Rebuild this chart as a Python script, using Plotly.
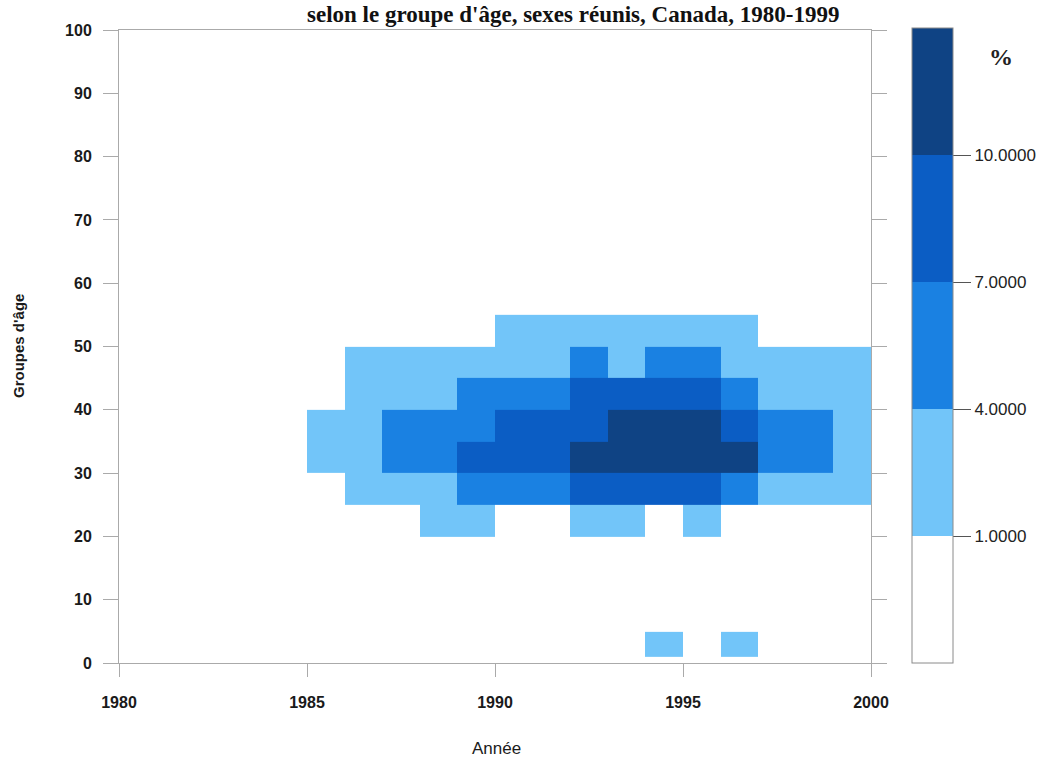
import plotly.graph_objects as go

# ---- data (values in %, read by colour class from the picture) ----
years = [1985, 1986, 1987, 1988, 1989, 1990, 1991, 1992, 1993, 1994, 1995, 1996, 1997, 1998, 1999]
year_edges = [1985, 1986, 1987, 1988, 1989, 1990, 1991, 1992, 1993, 1994, 1995, 1996, 1997, 1998, 1999, 2000]
age_edges = [1, 5, 10, 15, 20, 25, 30, 35, 40, 45, 50, 55]
age_groups = ["1-4", "5-9", "10-14", "15-19", "20-24", "25-29", "30-34", "35-39", "40-44", "45-49", "50-54"]

#               85   86   87   88   89   90   91   92    93    94    95    96   97   98   99
age_1_4   = [0.0, 0.0, 0.0, 0.0, 0.0, 0.0, 0.0, 0.0, 0.0, 2.5, 0.0, 2.5, 0.0, 0.0, 0.0]
age_5_9   = [0.0, 0.0, 0.0, 0.0, 0.0, 0.0, 0.0, 0.0, 0.0, 0.0, 0.0, 0.0, 0.0, 0.0, 0.0]
age_10_14 = [0.0, 0.0, 0.0, 0.0, 0.0, 0.0, 0.0, 0.0, 0.0, 0.0, 0.0, 0.0, 0.0, 0.0, 0.0]
age_15_19 = [0.0, 0.0, 0.0, 0.0, 0.0, 0.0, 0.0, 0.0, 0.0, 0.0, 0.0, 0.0, 0.0, 0.0, 0.0]
age_20_24 = [0.0, 0.0, 0.0, 2.5, 2.5, 0.0, 0.0, 2.5, 2.5, 0.0, 2.5, 0.0, 0.0, 0.0, 0.0]
age_25_29 = [0.0, 2.5, 2.5, 2.5, 5.5, 5.5, 5.5, 8.5, 8.5, 8.5, 8.5, 5.5, 2.5, 2.5, 2.5]
age_30_34 = [2.5, 2.5, 5.5, 5.5, 8.5, 8.5, 8.5, 11.5, 11.5, 11.5, 11.5, 11.5, 5.5, 5.5, 2.5]
age_35_39 = [2.5, 2.5, 5.5, 5.5, 5.5, 8.5, 8.5, 8.5, 11.5, 11.5, 11.5, 8.5, 5.5, 5.5, 2.5]
age_40_44 = [0.0, 2.5, 2.5, 2.5, 5.5, 5.5, 5.5, 8.5, 8.5, 8.5, 8.5, 5.5, 2.5, 2.5, 2.5]
age_45_49 = [0.0, 2.5, 2.5, 2.5, 2.5, 2.5, 2.5, 5.5, 2.5, 5.5, 5.5, 2.5, 2.5, 2.5, 2.5]
age_50_54 = [0.0, 0.0, 0.0, 0.0, 0.0, 2.5, 2.5, 2.5, 2.5, 2.5, 2.5, 2.5, 0.0, 0.0, 0.0]

class_breaks = [1, 4, 7, 10]
x_ticks = [1980, 1985, 1990, 1995, 2000]
y_ticks = [0, 10, 20, 30, 40, 50, 60, 70, 80, 90, 100]

z_rows = [age_1_4, age_5_9, age_10_14, age_15_19, age_20_24, age_25_29,
          age_30_34, age_35_39, age_40_44, age_45_49, age_50_54]

# ---- styling ----
WHITE = "#ffffff"
C1 = "#72c5f9"
C2 = "#1a81e2"
C3 = "#0b5dc4"
C4 = "#0f4384"
zmin, zmax = -2, 13
def f(v):
    return (v - zmin) / (zmax - zmin)
colorscale = [
    [0.0, WHITE], [f(1), WHITE],
    [f(1), C1], [f(4), C1],
    [f(4), C2], [f(7), C2],
    [f(7), C3], [f(10), C3],
    [f(10), C4], [1.0, C4],
]

L, R, T, B = 119, 173, 30, 95
W, H = 1044, 758
pw, ph = W - L - R, H - T - B

fig = go.Figure()
fig.add_trace(go.Heatmap(
    x=year_edges, y=age_edges, z=z_rows,
    zmin=zmin, zmax=zmax, colorscale=colorscale,
    xgap=0, ygap=0, hoverongaps=False,
    colorbar=dict(
        x=(912 - L) / pw, xanchor="left", xpad=0,
        y=0, yanchor="bottom", ypad=0,
        lenmode="pixels", len=635,
        thickness=41, thicknessmode="pixels",
        outlinewidth=1, outlinecolor="#8a8a8a",
        tickvals=class_breaks, tickformat=".4f",
        ticks="outside", ticklen=18, tickcolor="#555", tickwidth=1,
        tickfont=dict(family="Liberation Sans, Arial, sans-serif", size=17, color="#222"),
    ),
))

axis_font = dict(family="Liberation Sans, Arial, sans-serif", size=16, color="#1a1a1a", weight="bold")

fig.update_layout(
    width=W, height=H,
    margin=dict(l=L, r=R, t=T, b=B, pad=0, autoexpand=False),
    paper_bgcolor="white", plot_bgcolor="white",
    xaxis=dict(
        range=[1980, 2000], tickvals=x_ticks, ticks="outside", ticklen=13,
        tickcolor="#aaaaaa", showline=True, linecolor="#aaaaaa", linewidth=1,
        mirror=True, showgrid=False, zeroline=False, tickfont=axis_font,
        ticklabelstandoff=12,
    ),
    yaxis=dict(
        range=[0, 100], tickvals=y_ticks, ticks="outside", ticklen=15,
        tickcolor="#aaaaaa", showline=True, linecolor="#aaaaaa", linewidth=1,
        mirror="ticks", showgrid=False, zeroline=False, tickfont=axis_font,
        ticklabelstandoff=8,
    ),
    showlegend=False,
)

# title line at the very top of the page
fig.add_annotation(
    text="selon le groupe d'âge, sexes réunis, Canada, 1980-1999",
    xref="paper", yref="paper", x=(573 - L) / pw, y=(H - B - 0) / ph,
    xanchor="center", yanchor="top", showarrow=False,
    font=dict(family="Liberation Serif, Times New Roman, serif", size=23, color="#111", weight="bold"),
)
fig.add_annotation(
    text="%", xref="paper", yref="paper",
    x=(1001 - L) / pw, y=(H - B - 57) / ph,
    xanchor="center", yanchor="middle", showarrow=False,
    font=dict(family="Liberation Serif, Times New Roman, serif", size=24, color="#222", weight="bold"),
)
fig.add_annotation(
    text="Groupes d'âge", xref="paper", yref="paper",
    x=(18 - L) / pw, y=(H - B - 346) / ph, textangle=-90,
    xanchor="center", yanchor="middle", showarrow=False,
    font=dict(family="Liberation Sans, Arial, sans-serif", size=15, color="#1a1a1a", weight="bold"),
)
fig.add_annotation(
    text="Année", xref="paper", yref="paper",
    x=(496 - L) / pw, y=(H - B - 748) / ph,
    xanchor="center", yanchor="middle", showarrow=False,
    font=dict(family="Liberation Sans, Arial, sans-serif", size=17, color="#1a1a1a"),
)

fig.write_html("out.html")
